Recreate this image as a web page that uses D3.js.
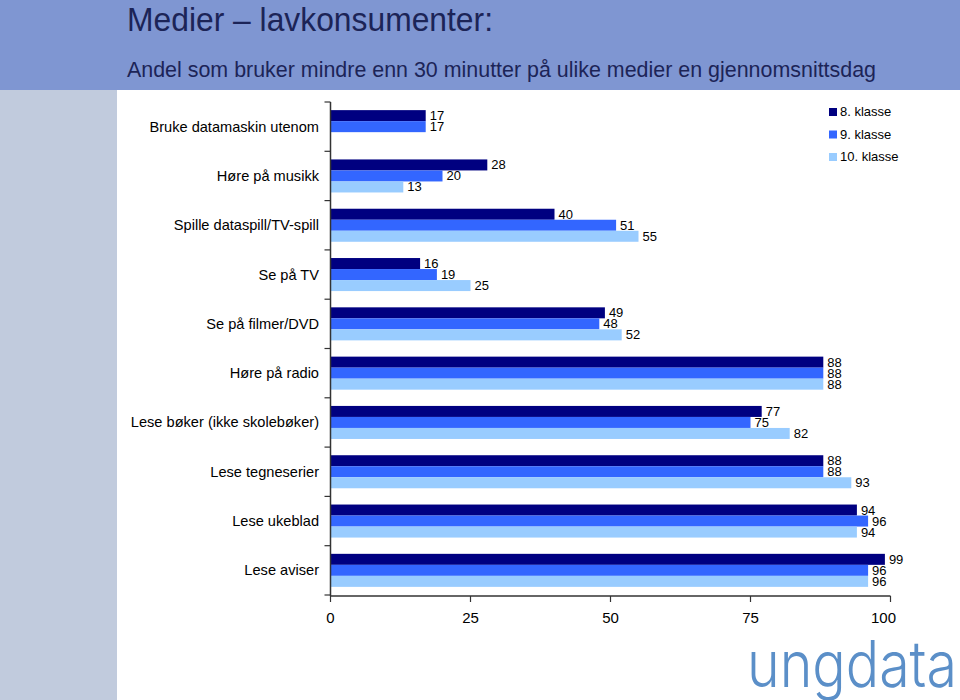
<!DOCTYPE html>
<html><head><meta charset="utf-8">
<script src="https://cdn.jsdelivr.net/npm/d3@7"></script>
<style>body{margin:0;background:#fff;}svg{display:block;}</style>
</head><body>
<script>
const categories = ["Bruke datamaskin utenom","Høre på musikk","Spille dataspill/TV-spill","Se på TV","Se på filmer/DVD","Høre på radio","Lese bøker (ikke skolebøker)","Lese tegneserier","Lese ukeblad","Lese aviser"];
const seriesNames = ["8. klasse","9. klasse","10. klasse"];
const klasse8 = [17,28,40,16,49,88,77,88,94,99];
const klasse9 = [17,20,51,19,48,88,75,88,96,96];
const klasse10 = [null,13,55,25,52,88,82,93,94,96];
const xTicks = [0,25,50,75,100];
const colors = ["#000080","#3366ff","#99ccff"];
const titleText = "Medier – lavkonsumenter:";
const subtitleText = "Andel som bruker mindre enn 30 minutter på ulike medier en gjennomsnittsdag";

const W=960,H=700;
const svg=d3.select("body").append("svg").attr("width",W).attr("height",H);
svg.append("rect").attr("x",0).attr("y",0).attr("width",W).attr("height",90).attr("fill","#7f96d2");
svg.append("rect").attr("x",0).attr("y",90).attr("width",117).attr("height",H-90).attr("fill","#c1cbdd");
svg.append("text").attr("x",127).attr("y",31).attr("font-family","'Liberation Sans',sans-serif")
  .attr("font-size",34).attr("fill","#1c2457").attr("textLength",366).attr("lengthAdjust","spacingAndGlyphs").text(titleText);
svg.append("text").attr("x",127).attr("y",77).attr("font-family","'Liberation Sans',sans-serif")
  .attr("font-size",22).attr("fill","#1c2457").attr("textLength",749).attr("lengthAdjust","spacingAndGlyphs").text(subtitleText);

const x=d3.scaleLinear().domain([0,100]).range([330.5,890.5]);
const y=d3.scaleBand().domain(categories).range([102,595]).paddingInner(0.33).paddingOuter(0.165);
const sub=d3.scaleBand().domain(seriesNames).range([0,y.bandwidth()]);
const data=categories.map((c,i)=>({cat:c,vals:[klasse8[i],klasse9[i],klasse10[i]]}));

const g=svg.append("g");
const groups=g.selectAll("g.cat").data(data).join("g").attr("transform",d=>`translate(0,${y(d.cat)})`);
groups.selectAll("rect").data(d=>d.vals.map((v,j)=>({v,s:seriesNames[j],j})).filter(e=>e.v!=null))
 .join("rect").attr("x",x(0)).attr("y",e=>sub(e.s)).attr("width",e=>x(e.v)-x(0)).attr("height",sub.bandwidth()).attr("fill",e=>colors[e.j]);
groups.selectAll("text").data(d=>d.vals.map((v,j)=>({v,s:seriesNames[j],j})).filter(e=>e.v!=null))
 .join("text").attr("x",e=>x(e.v)+4).attr("y",e=>sub(e.s)+sub.bandwidth()/2+4.5).attr("font-family","'Liberation Sans',Arial,sans-serif")
 .attr("font-size",13).attr("fill","#000").text(e=>e.v);

const axisColor="#333";
svg.append("line").attr("x1",x(0)).attr("x2",x(0)).attr("y1",102).attr("y2",596).attr("stroke",axisColor).attr("stroke-width",1.5);
const step=y.step();
const bounds=d3.range(categories.length+1).map(i=>y(categories[0])-y.paddingOuter()*step+ i*step);
svg.selectAll("line.yt").data(bounds).join("line").attr("x1",x(0)-6).attr("x2",x(0)).attr("y1",d=>d).attr("y2",d=>d).attr("stroke",axisColor).attr("stroke-width",1.2);
svg.selectAll("text.cat").data(categories).join("text").attr("x",319).attr("y",c=>y(c)+y.bandwidth()/2+5)
 .attr("text-anchor","end").attr("font-family","'Liberation Sans',Arial,sans-serif").attr("font-size",14.6).attr("fill","#000").text(c=>c);
svg.append("line").attr("x1",x(0)).attr("x2",x(100)).attr("y1",596).attr("y2",596).attr("stroke",axisColor).attr("stroke-width",1.5);
svg.selectAll("line.xt").data(xTicks).join("line").attr("x1",d=>x(d)).attr("x2",d=>x(d)).attr("y1",596).attr("y2",602).attr("stroke",axisColor).attr("stroke-width",1.2);
svg.selectAll("text.xl").data(xTicks).join("text").attr("x",d=>x(d)-(d===100?7:0)).attr("y",623).attr("text-anchor","middle")
 .attr("font-family","'Liberation Sans',Arial,sans-serif").attr("font-size",15).attr("fill","#000").text(d=>d);

const leg=svg.append("g");
seriesNames.forEach((s,i)=>{
  leg.append("rect").attr("x",829).attr("y",108+i*22.5).attr("width",8).attr("height",8).attr("fill",colors[i]);
  leg.append("text").attr("x",840).attr("y",116+i*22.5).attr("font-family","'Liberation Sans',Arial,sans-serif").attr("font-size",13).attr("fill","#000").text(s);
});

svg.append("text").attr("x",747).attr("y",687).attr("font-family","Inter,'Noto Sans',sans-serif").attr("font-weight",300)
 .attr("font-size",64).attr("fill","#5b8fc8").attr("textLength",210).attr("lengthAdjust","spacingAndGlyphs").text("ungdata");
</script>
</body></html>
